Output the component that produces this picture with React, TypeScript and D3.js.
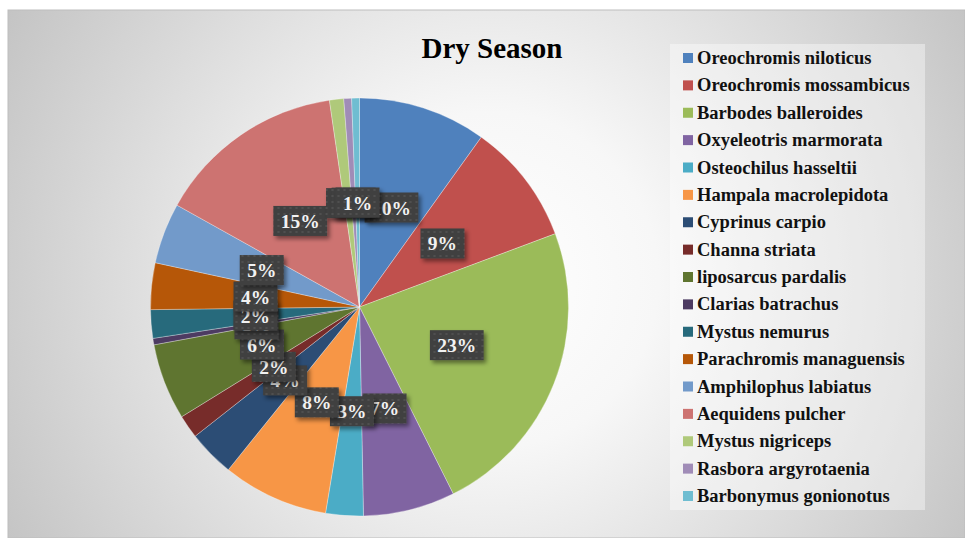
import React from "react";
import * as d3 from "d3";

const species = [
  "Oreochromis niloticus",
  "Oreochromis mossambicus",
  "Barbodes balleroides",
  "Oxyeleotris marmorata",
  "Osteochilus hasseltii",
  "Hampala macrolepidota",
  "Cyprinus carpio",
  "Channa striata",
  "liposarcus pardalis",
  "Clarias batrachus",
  "Mystus nemurus",
  "Parachromis managuensis",
  "Amphilophus labiatus",
  "Aequidens pulcher",
  "Mystus nigriceps",
  "Rasbora argyrotaenia",
  "Barbonymus gonionotus",
];

const shares = [9.9, 9.4, 23.3, 7.1, 2.9, 8.2, 3.6, 1.8, 5.9, 0.5, 2.2, 3.6, 4.7, 14.6, 1.1, 0.6, 0.6];

const colors = [
  "#4F81BD", "#C0504D", "#9BBB59", "#8064A2", "#4BACC6", "#F79646",
  "#2C4D75", "#772C2A", "#5F7530", "#4D3B62", "#276A7C", "#B65708",
  "#729ACA", "#CD7371", "#AFC97A", "#A08CB7", "#6FBDD1",
];

const title = "Dry Season";

export default function App() {
  const W = 965, H = 538;
  const cx = 359.5, cy = 307, R = 209;
  const total = d3.sum(shares);
  const pie = d3.pie<number>().sort(null).value((d) => d)(shares);
  const arc = d3.arc<d3.PieArcDatum<number>>().innerRadius(0).outerRadius(R);
  const legendY = d3.scalePoint<number>().domain(d3.range(species.length)).range([58, 496]);
  const fs = 19.5;

  return (
    <svg width={W} height={H} style={{ position: "absolute", left: 0, top: 0 }}>
      <defs>
        <radialGradient id="bg" gradientUnits="userSpaceOnUse" cx={490} cy={280} r={560}>
          <stop offset="0" stopColor="#ffffff" />
          <stop offset="0.3" stopColor="#f7f7f7" />
          <stop offset="1" stopColor="#c3c3c3" />
        </radialGradient>
        <pattern id="dots" width="6" height="6" patternUnits="userSpaceOnUse">
          <rect width="6" height="6" fill="#3f3f3f" />
          <circle cx="3" cy="3" r="0.9" fill="#585858" />
        </pattern>
        <filter id="shadow" x="-30%" y="-30%" width="160%" height="180%">
          <feDropShadow dx="2.5" dy="3" stdDeviation="2" floodColor="#000" floodOpacity="0.45" />
        </filter>
      </defs>
      <rect x={0} y={0} width={W} height={H} fill="#fff" />
      <rect x={8} y={10} width={W - 8} height={H - 10} fill="url(#bg)" stroke="#bdbdbd" strokeWidth={1} />
      <text x={492} y={58} textAnchor="middle" fontFamily="'Liberation Serif', 'Times New Roman', serif" fontWeight="bold" fontSize={29} fill="#000">
        {title}
      </text>
      <g transform={`translate(${cx},${cy})`}>
        {pie.map((d, i) => (
          <path key={i} d={arc(d) || ""} fill={colors[i]} stroke="#ffffff" strokeOpacity={0.5} strokeWidth={0.6} />
        ))}
        {pie.map((d, i) => {
          const [x, y] = arc.centroid(d);
          const label = Math.round((d.value / total) * 100) + "%";
          const tw = ((label.length - 1) * 0.5 + 0.833) * fs;
          const w = tw + 18;
          const h = 30;
          return (
            <g key={"l" + i}>
              <rect x={x - w / 2} y={y - h / 2} width={w} height={h} fill="url(#dots)" filter="url(#shadow)" />
              <text x={x} y={y + 7} textAnchor="middle" fontFamily="'Liberation Serif', 'Times New Roman', serif" fontWeight="bold" fontSize={fs} fill="#f2f2f2">
                {label}
              </text>
            </g>
          );
        })}
      </g>
      <rect x={670} y={44} width={255} height={466} fill="#ffffff" fillOpacity={0.4} />
      {species.map((s, i) => (
        <g key={"lg" + i} transform={`translate(683,${legendY(i)})`}>
          <rect x={0} y={-5} width={10} height={10} fill={colors[i]} />
          <text x={14} y={6} fontFamily="'Liberation Serif', 'Times New Roman', serif" fontWeight="bold" fontSize={18.5} fill="#111">
            {s}
          </text>
        </g>
      ))}
    </svg>
  );
}
